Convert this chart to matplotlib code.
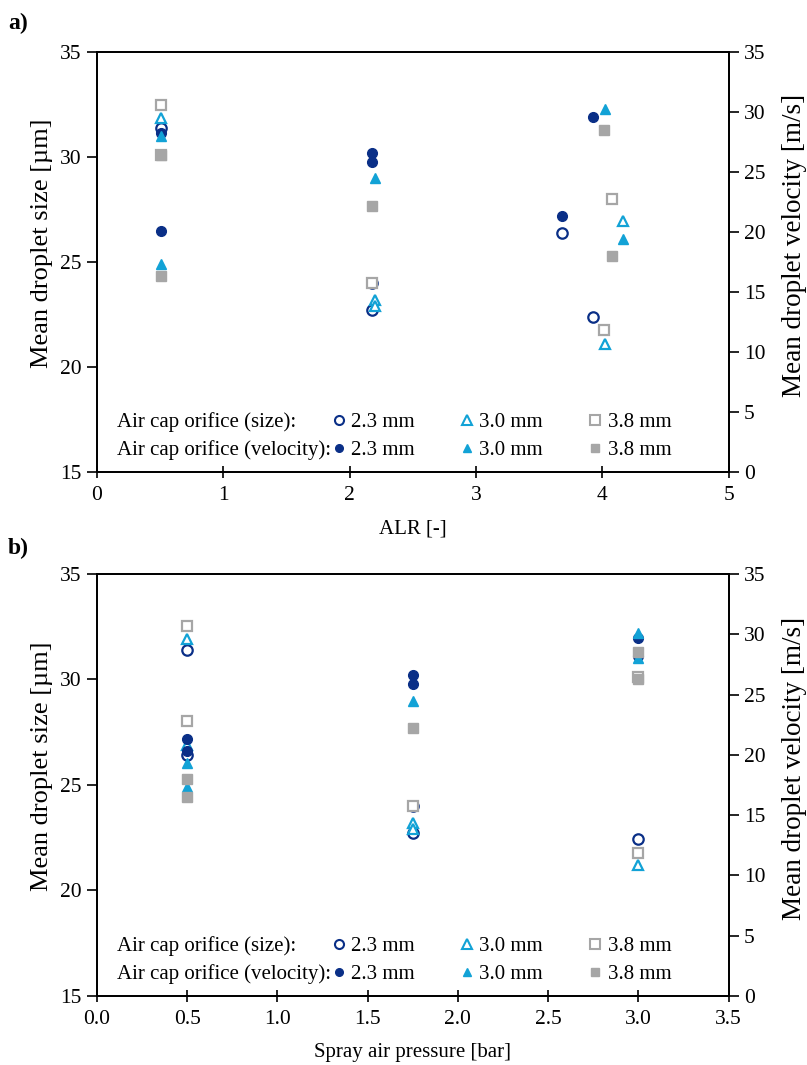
import matplotlib
matplotlib.use('Agg')
import matplotlib.pyplot as plt
from matplotlib.lines import Line2D

plt.rcParams['font.family'] = ['Liberation Serif', 'DejaVu Serif']

# colours per air cap orifice
c23 = '#0a2f87'
c30 = '#12a2d6'
c38 = '#a6a6a6'

orifices = ['2.3 mm', '3.0 mm', '3.8 mm']

# ---- panel a: ALR [-] ----
# droplet size [um] (open markers, left axis)
a_size_23_x = [0.51, 2.18, 2.18, 3.68, 3.93]
a_size_23_y = [31.4, 24.0, 22.7, 26.4, 22.4]
a_size_30_x = [0.51, 2.20, 2.20, 4.16, 4.02]
a_size_30_y = [31.85, 23.2, 22.9, 26.95, 21.1]
a_size_38_x = [0.51, 0.51, 2.18, 4.08, 4.01]
a_size_38_y = [32.5, 30.1, 24.0, 28.0, 21.75]
# droplet velocity [m/s] (filled markers, right axis)
a_vel_23_x = [0.51, 0.51, 2.18, 2.18, 3.68, 3.93]
a_vel_23_y = [28.3, 20.1, 26.6, 25.8, 21.3, 29.6]
a_vel_30_x = [0.51, 0.51, 2.20, 4.16, 4.02]
a_vel_30_y = [28.0, 17.3, 24.5, 19.4, 30.3]
a_vel_38_x = [0.51, 0.51, 2.18, 4.08, 4.01]
a_vel_38_y = [26.4, 16.3, 22.2, 18.0, 28.5]

# ---- panel b: spray air pressure [bar] ----
b_size_23_x = [0.5, 0.5, 1.75, 1.75, 3.0]
b_size_23_y = [31.4, 26.4, 24.0, 22.7, 22.45]
b_size_30_x = [0.5, 0.5, 1.75, 1.75, 3.0]
b_size_30_y = [31.9, 26.9, 23.2, 22.9, 21.2]
b_size_38_x = [0.5, 0.5, 1.75, 3.0, 3.0]
b_size_38_y = [32.55, 28.05, 24.0, 30.1, 21.75]
b_vel_23_x = [0.5, 0.5, 1.75, 1.75, 3.0, 3.0]
b_vel_23_y = [21.35, 20.3, 26.6, 25.9, 29.7, 28.2]
b_vel_30_x = [0.5, 0.5, 1.75, 3.0, 3.0]
b_vel_30_y = [19.3, 17.3, 24.5, 30.1, 28.0]
b_vel_38_x = [0.5, 0.5, 1.75, 3.0, 3.0]
b_vel_38_y = [18.0, 16.5, 22.2, 28.5, 26.3]

fs = 15.5
ms = 7.5


def draw(ax, size_sets, vel_sets, xlim, xticks, xfmt, xlabel):
    ax2 = ax.twinx()
    mk = ['o', '^', 's']
    cols = [c23, c30, c38]
    for (x, y), m, c in zip(size_sets, mk, cols):
        ax.plot(x, y, linestyle='none', marker=m, markersize=ms,
                markerfacecolor='white', markeredgecolor=c, markeredgewidth=1.6)
    for (x, y), m, c in zip(vel_sets, mk, cols):
        ax2.plot(x, y, linestyle='none', marker=m, markersize=ms - 0.5,
                 markerfacecolor=c, markeredgecolor=c)

    ax.set_xlim(*xlim)
    ax.set_ylim(15, 35)
    ax2.set_ylim(0, 35)
    ax.set_xticks(xticks)
    ax.set_xticklabels([xfmt.format(t) for t in xticks])
    ax.set_yticks([15, 20, 25, 30, 35])
    ax2.set_yticks(range(0, 36, 5))
    ax.set_xlabel(xlabel, fontsize=15, labelpad=10)
    ax.set_ylabel('Mean droplet size [µm]', fontsize=19)
    ax2.set_ylabel('Mean droplet velocity [m/s]', fontsize=19.5)
    ax.yaxis.set_label_coords(-0.07, 0.545)
    ax2.yaxis.set_label_coords(1.084, 0.54)
    ax.tick_params(axis='x', direction='inout', length=9, width=1.2,
                   labelsize=fs, pad=6)
    ax.tick_params(axis='y', direction='out', length=7, width=1.2,
                   labelsize=fs, pad=4)
    ax2.tick_params(axis='y', direction='out', length=7, width=1.2,
                    labelsize=fs, pad=4)
    for a in (ax, ax2):
        for s in a.spines.values():
            s.set_linewidth(1.3)
            s.set_color('black')

    # legend: row titles as text, markers as a 3-column legend
    ax2.text(0.032, 0.118, 'Air cap orifice (size):', transform=ax2.transAxes,
             fontsize=15, va='center', ha='left')
    ax2.text(0.032, 0.051, 'Air cap orifice (velocity):', transform=ax2.transAxes,
             fontsize=15, va='center', ha='left')
    handles = []
    labels = []
    for m, c, name in zip(mk, cols, orifices):
        handles.append(Line2D([], [], linestyle='none', marker=m, markersize=ms - 1,
                              markerfacecolor='white', markeredgecolor=c,
                              markeredgewidth=1.5))
        labels.append(name)
        handles.append(Line2D([], [], linestyle='none', marker=m, markersize=ms - 2,
                              markerfacecolor=c, markeredgecolor=c))
        labels.append(name)
    ax2.legend(handles, labels, ncol=3, loc='center left',
               bbox_to_anchor=(0.353, 0.0845), frameon=False, fontsize=15,
               borderpad=0, handlelength=0.8, handletextpad=0.2,
               columnspacing=2.1, labelspacing=0.4)
    return ax2


fig = plt.figure(figsize=(8.07, 10.65), dpi=100)
ax_a = fig.add_axes([0.120, 0.557, 0.783, 0.394])
ax_b = fig.add_axes([0.120, 0.065, 0.783, 0.396])

draw(ax_a,
     [(a_size_23_x, a_size_23_y), (a_size_30_x, a_size_30_y), (a_size_38_x, a_size_38_y)],
     [(a_vel_23_x, a_vel_23_y), (a_vel_30_x, a_vel_30_y), (a_vel_38_x, a_vel_38_y)],
     (0, 5), [0, 1, 2, 3, 4, 5], '{:.0f}', 'ALR [-]')
draw(ax_b,
     [(b_size_23_x, b_size_23_y), (b_size_30_x, b_size_30_y), (b_size_38_x, b_size_38_y)],
     [(b_vel_23_x, b_vel_23_y), (b_vel_30_x, b_vel_30_y), (b_vel_38_x, b_vel_38_y)],
     (0, 3.5), [0, 0.5, 1, 1.5, 2, 2.5, 3, 3.5], '{:.1f}', 'Spray air pressure [bar]')

fig.text(0.010, 0.978, 'a)', fontsize=17, fontweight='bold', va='center')
fig.text(0.010, 0.485, 'b)', fontsize=17, fontweight='bold', va='center')

fig.savefig('out.png', dpi=100)
